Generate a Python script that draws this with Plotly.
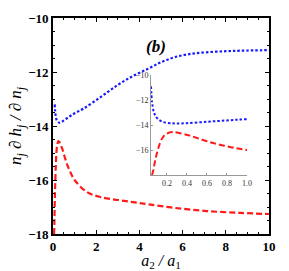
import plotly.graph_objects as go

# blue dotted curve
blue_x = [0.04, 0.05, 0.066, 0.08, 0.1, 0.16, 0.25, 0.3, 0.4, 0.6, 0.8, 1.0, 1.4, 2.2, 3.0,
          3.7, 4.4, 5.0, 5.6, 6.3, 7.1, 8.0, 8.7, 10.0]
blue_y = [-10.9, -12.1, -12.9, -13.2, -13.44, -13.76, -13.86, -13.88, -13.85, -13.74, -13.63,
          -13.53, -13.36, -12.93, -12.48, -12.15, -11.88, -11.64, -11.46, -11.34, -11.27, -11.23,
          -11.21, -11.19]
# red dashed curve
red_x = [0.05, 0.064, 0.08, 0.1, 0.13, 0.16, 0.2, 0.25, 0.3, 0.43, 0.6, 0.77, 1.0, 1.56, 2.2,
         3.0, 3.7, 4.4, 5.6, 7.1, 8.7, 10.0]
red_y = [-18.0, -17.6, -16.9, -16.24, -15.44, -14.96, -14.68, -14.56, -14.6, -14.85, -15.3,
         -15.65, -16.0, -16.44, -16.63, -16.74, -16.82, -16.9, -17.03, -17.15, -17.22, -17.26]

main_ticks_x = [0, 2, 4, 6, 8, 10]
main_ticks_y = [-18, -16, -14, -12, -10]
inset_ticks_x = [0.2, 0.4, 0.6, 0.8, 1.0]
inset_ticks_y = [-16, -14, -12, -10]

BLUE = "#1a1aff"
RED = "#ff1a1a"
blue_dash = "2.5px,2px"
red_dash = "6px,3px"

bm = [(x, y) for x, y in zip(blue_x, blue_y) if x >= 0.08]

fig = go.Figure()
fig.add_trace(go.Scatter(x=[p[0] for p in bm], y=[p[1] for p in bm], mode="lines",
                         line=dict(color=BLUE, width=2.2, dash=blue_dash, shape="spline"),
                         showlegend=False))
fig.add_trace(go.Scatter(x=red_x, y=red_y, mode="lines",
                         line=dict(color=RED, width=2.2, dash=red_dash, shape="spline"),
                         showlegend=False))
fig.add_trace(go.Scatter(x=blue_x, y=blue_y, mode="lines", xaxis="x2", yaxis="y2",
                         line=dict(color=BLUE, width=2, dash=blue_dash, shape="spline"),
                         showlegend=False))
fig.add_trace(go.Scatter(x=red_x, y=red_y, mode="lines", xaxis="x2", yaxis="y2",
                         line=dict(color=RED, width=2, dash=red_dash, shape="spline"),
                         showlegend=False))

serif = "Liberation Serif, Times New Roman, DejaVu Serif, serif"
tickfont = dict(family=serif, size=13, color="black", weight="bold")
fig.update_layout(
    width=289, height=271,
    margin=dict(l=53, r=20, t=18, b=37, autoexpand=False),
    paper_bgcolor="white", plot_bgcolor="white",
    xaxis=dict(range=[0, 10], tickvals=main_ticks_x, ticks="inside", ticklen=4, tickwidth=1,
               tickcolor="black", showline=True, linewidth=1.6, linecolor="black",
               mirror="allticks", showgrid=False, zeroline=False, tickfont=tickfont,
               automargin=False,
               minor=dict(dtick=0.5, ticks="inside", ticklen=2, tickcolor="black"),
               title=dict(text="<i>a</i><sub>2</sub><i> / a</i><sub>1</sub>",
                          font=dict(family=serif, size=16, color="black"), standoff=6)),
    yaxis=dict(range=[-18, -10], tickvals=main_ticks_y, ticks="inside", ticklen=4, tickwidth=1,
               tickcolor="black", showline=True, linewidth=1.6, linecolor="black",
               mirror="allticks", showgrid=False, zeroline=False, tickfont=tickfont,
               automargin=False,
               minor=dict(dtick=0.5, ticks="inside", ticklen=2, tickcolor="black"),
               title=dict(text="<i>n<sub>j</sub></i> <i>∂ h<sub>j</sub></i> <i>/ ∂ n<sub>j</sub></i>",
                          font=dict(family=serif, size=17, color="black"), standoff=2)),
    xaxis2=dict(domain=[0.4537, 0.898], anchor="y2", range=[0.04, 1.0], tickvals=inset_ticks_x,
                ticktext=["0.2", "0.4", "0.6", "0.8", "1.0"], automargin=False,
                ticks="inside", ticklen=2, tickcolor="#999999", showline=True, linewidth=1,
                linecolor="#999999", showgrid=False, zeroline=False,
                tickfont=dict(family=serif, size=8, color="#333333")),
    yaxis2=dict(domain=[0.273, 0.736], anchor="x2", range=[-18, -10], tickvals=inset_ticks_y,
                automargin=False,
                ticks="inside", ticklen=2, tickcolor="#999999", showline=True, linewidth=1,
                linecolor="#999999", showgrid=False, zeroline=False,
                tickfont=dict(family=serif, size=8, color="#333333")),
    annotations=[dict(text="<b><i>(b)</i></b>", xref="paper", yref="paper", x=0.475, y=0.92,
                      showarrow=False, font=dict(family=serif, size=17, color="black"))],
)

fig.write_html("out.html", config={"displayModeBar": False},
               post_script="document.body.style.margin='0';")
